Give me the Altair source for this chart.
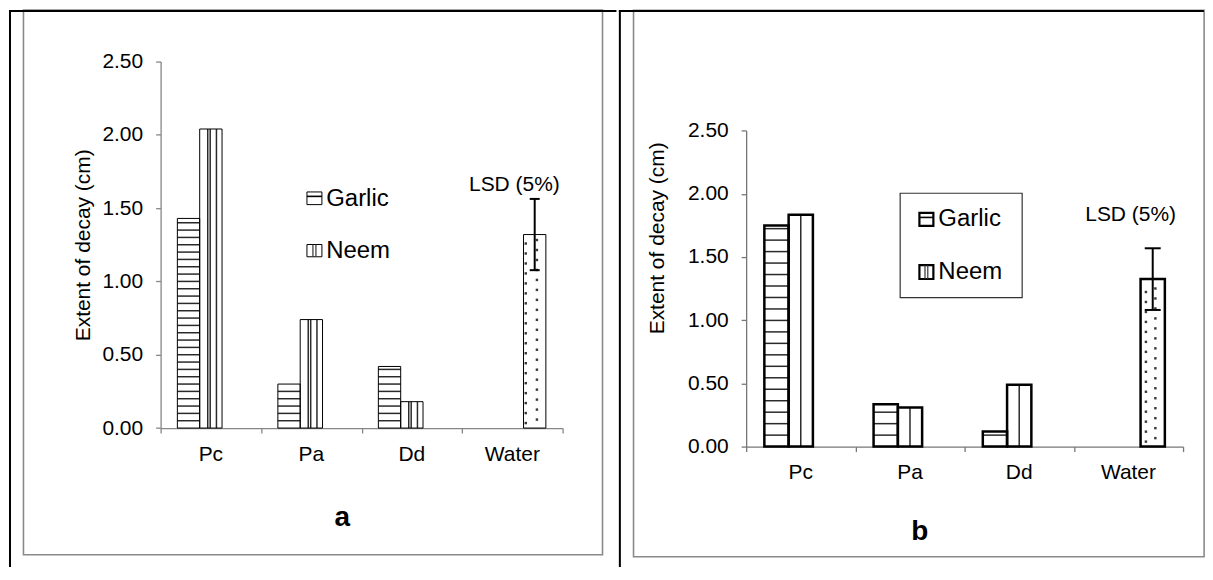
import altair as alt
import pandas as pd

# ---------------- data ----------------
categories = ["Pc", "Pa", "Dd", "Water"]
series = ["Garlic", "Neem", "Water"]
legend_labels = ["Garlic", "Neem"]

garlic_a = [1.43, 0.30, 0.42, 0.0]
neem_a = [2.04, 0.74, 0.18, 0.0]
water_a = [0.0, 0.0, 0.0, 1.32]
lsd_half_a = 0.243

garlic_b = [1.75, 0.335, 0.12, 0.0]
neem_b = [1.835, 0.31, 0.49, 0.0]
water_b = [0.0, 0.0, 0.0, 1.325]
lsd_half_b = 0.244

y_ticks = [0.0, 0.5, 1.0, 1.5, 2.0, 2.5]
y_title = "Extent of decay  (cm)"
lsd_label = "LSD (5%)"
panel_labels = ["a", "b"]

FONT = "Liberation Sans"
GRAY = "#868686"
BW = 2 / 9      # bar width (category units), Excel gap width 150%
GAP = 1 / 6     # outer gap on each side of a group

# both panels share the same view origin row (y = 59.3); panel b's value axis
# occupies only the lower part of its view through the scale range
CFG_A = dict(W=403, H=367.4, Hs=367.4, ox=160, oy=59.3, bar_sw=1, hstep_px=7.35, vfr=[0.36, 0.47, 0.75],
             dot_cols=[0.1, 0.6], dstep_px=10, cap_px=5, lsd_y=189, cat_y=459.3,
             lab_x=342, lab_y=525, tx=92.5, ty=243,
             leg_box=None, leg_sw=[(306.7, 190, 321.7, 202.7), (306.7, 242.7, 321.7, 255)],
             leg_tx=326, leg_ty=[196.7, 249], axis_col=GRAY, leg_stroke=1,
             gray=(22.5, 7.7, 603, 553.7), vline=9, tline=(8, 617))
CFG_B = dict(W=438, H=386.0, Hs=316.8, ox=744.6, oy=59.3, bar_sw=2.5, hstep_px=11.5, vfr=[0.5],
             dot_cols=[0.22, 0.61], dstep_px=10, cap_px=8, lsd_y=219, cat_y=477.8,
             lab_x=918.6, lab_y=539, tx=666, ty=236,
             leg_box=(899, 191.3, 1021.3, 296), leg_sw=[(918.3, 211, 932.3, 224), (918.3, 263.3, 932.3, 277.3)],
             leg_tx=937.3, leg_ty=[216.7, 270], axis_col="#777777", leg_stroke=2.2,
             gray=(631.7, 8, 1203.7, 555.7), vline=618, tline=(617, 1203.5))


def one():
    return alt.Data(values=[{}])


def panel(vals, lsd_half, cfg, label):
    W, H, Hs, ox, oy = cfg["W"], cfg["H"], cfg["Hs"], cfg["ox"], cfg["oy"]
    ux = 4 / W       # data units per pixel (x)
    uy = 2.5 / Hs    # data units per pixel (y)
    rx = lambda a: a - ox
    ry = lambda a: a - oy
    xs = alt.Scale(domain=[0, 4], nice=False, zero=False)
    ys = alt.Scale(domain=[0, 2.5], nice=False, zero=True, range=[H, H - Hs])

    rows = []
    for j, s in enumerate(series):
        for i, c in enumerate(categories):
            v = vals[j][i]
            if v > 0:
                x0 = i + GAP + j * BW
                rows.append({"cat": c, "series": s, "x0": x0, "x1": x0 + BW, "v": v})
    bars = pd.DataFrame(rows)

    xaxis = alt.Axis(values=[0, 1, 2, 3, 4], labels=False, ticks=True, tickSize=5,
                     tickColor=cfg["axis_col"], domainColor=cfg["axis_col"], domainWidth=1.3,
                     tickWidth=1.3, title=None, grid=False)
    yaxis = alt.Axis(values=y_ticks, format=".2f", labelFont=FONT, labelFontSize=21,
                     labelColor="black", tickSize=5, tickColor=cfg["axis_col"], tickWidth=1.3,
                     labelPadding=13, domainColor=cfg["axis_col"], domainWidth=1.3, grid=False,
                     title=y_title, titleFont=FONT, titleFontSize=21, titleFontWeight="normal",
                     titleColor="black", titleAngle=270, titleAlign="center", titleBaseline="bottom",
                     titleX=rx(cfg["tx"]), titleY=ry(cfg["ty"]))

    enc = dict(x=alt.X("x0:Q", scale=xs, axis=xaxis), x2="x1:Q",
               y=alt.Y("v:Q", scale=ys, axis=yaxis), y2=alt.datum(0))
    fill = alt.Chart(bars).mark_rect(fill="white").encode(**enc)
    outline = alt.Chart(bars).mark_rect(fillOpacity=0, stroke="black",
                                        strokeWidth=cfg["bar_sw"]).encode(**enc)

    # horizontal stripes (Garlic)
    hstep = cfg["hstep_px"] * uy
    hrows = []
    for r in rows:
        if r["series"] == "Garlic":
            k = 1
            while k * hstep < r["v"] - 0.25 * hstep:
                hrows.append({"x0": r["x0"], "x1": r["x1"], "y": k * hstep})
                k += 1
    hstr = alt.Chart(pd.DataFrame(hrows)).mark_rule(color="#2a2a2a", strokeWidth=1.5).encode(
        x=alt.X("x0:Q", scale=xs), x2="x1:Q", y=alt.Y("y:Q", scale=ys))

    # vertical stripes (Neem)
    vrows = []
    for r in rows:
        if r["series"] == "Neem":
            for f in cfg["vfr"]:
                vrows.append({"x": r["x0"] + f * BW, "y0": 0, "y1": r["v"]})
    vstr = alt.Chart(pd.DataFrame(vrows)).mark_rule(color="#2a2a2a", strokeWidth=1.5).encode(
        x=alt.X("x:Q", scale=xs), y=alt.Y("y0:Q", scale=ys), y2="y1:Q")

    # dotted fill (Water)
    dstep = cfg["dstep_px"] * uy
    drows = []
    for r in rows:
        if r["series"] == "Water":
            for ci, f in enumerate(cfg["dot_cols"]):
                k = 0
                while True:
                    yy = (k + 0.5 + 0.35 * ci) * dstep
                    if yy > r["v"] - 0.4 * dstep:
                        break
                    drows.append({"x": r["x0"] + f * BW, "y": yy})
                    k += 1
    dots = alt.Chart(pd.DataFrame(drows)).mark_square(size=6, color="#3a3a3a", opacity=1).encode(
        x=alt.X("x:Q", scale=xs), y=alt.Y("y:Q", scale=ys))

    # LSD error bar on the control bar
    wrow = [r for r in rows if r["series"] == "Water"][0]
    xc = (wrow["x0"] + wrow["x1"]) / 2
    cap = cfg["cap_px"] * ux
    err = pd.DataFrame([{"x": xc, "xa": xc - cap, "xb": xc + cap,
                         "lo": wrow["v"] - lsd_half, "hi": wrow["v"] + lsd_half}])
    err_v = alt.Chart(err).mark_rule(color="black", strokeWidth=2).encode(
        x=alt.X("x:Q", scale=xs), y=alt.Y("lo:Q", scale=ys), y2="hi:Q")
    err_lo = alt.Chart(err).mark_rule(color="black", strokeWidth=2).encode(
        x=alt.X("xa:Q", scale=xs), x2="xb:Q", y=alt.Y("lo:Q", scale=ys))
    err_hi = alt.Chart(err).mark_rule(color="black", strokeWidth=2).encode(
        x=alt.X("xa:Q", scale=xs), x2="xb:Q", y=alt.Y("hi:Q", scale=ys))
    lsd_txt = alt.Chart(pd.DataFrame([{"x": 3.52, "t": lsd_label}])).mark_text(
        font=FONT, fontSize=21, color="black", align="center", baseline="alphabetic").encode(
        x=alt.X("x:Q", scale=xs), y=alt.value(ry(cfg["lsd_y"])), text="t:N")

    # category labels
    cats = pd.DataFrame([{"cat": c, "xc": i + 0.5} for i, c in enumerate(categories)])
    cat_txt = alt.Chart(cats).mark_text(font=FONT, fontSize=21, color="black", align="center",
                                        baseline="alphabetic").encode(
        x=alt.X("xc:Q", scale=xs), y=alt.value(ry(cfg["cat_y"])), text="cat:N")

    # panel letter
    lab = alt.Chart(pd.DataFrame([{"t": label}])).mark_text(
        font=FONT, fontSize=28, fontWeight="bold", color="black", align="center",
        baseline="alphabetic").encode(x=alt.value(rx(cfg["lab_x"])), y=alt.value(ry(cfg["lab_y"])),
                                      text="t:N")

    deco = []
    # gray chart-area border
    gx0, gy0, gx1, gy1 = cfg["gray"]
    deco.append(alt.Chart(one()).mark_rect(fillOpacity=0, stroke="#8a8a8a", strokeWidth=1.6).encode(
        x=alt.value(rx(gx0)), x2=alt.value(rx(gx1)), y=alt.value(ry(gy0)), y2=alt.value(ry(gy1))))
    # black table lines
    deco.append(alt.Chart(one()).mark_rule(color="black", strokeWidth=2).encode(
        x=alt.value(rx(cfg["vline"])), y=alt.value(ry(7.5)), y2=alt.value(ry(566))))
    deco.append(alt.Chart(one()).mark_rule(color="black", strokeWidth=2).encode(
        x=alt.value(rx(cfg["tline"][0])), x2=alt.value(rx(cfg["tline"][1])), y=alt.value(ry(8.5))))

    # legend
    leg = []
    if cfg["leg_box"] is not None:
        bx0, by0, bx1, by1 = cfg["leg_box"]
        leg.append(alt.Chart(one()).mark_rect(fill="white", stroke="#333333", strokeWidth=1.2).encode(
            x=alt.value(rx(bx0)), x2=alt.value(rx(bx1)), y=alt.value(ry(by0)), y2=alt.value(ry(by1))))
    for n, name in enumerate(legend_labels):
        sx0, sy0, sx1, sy1 = cfg["leg_sw"][n]
        leg.append(alt.Chart(one()).mark_rect(fill="white", stroke="black",
                                              strokeWidth=cfg["leg_stroke"]).encode(
            x=alt.value(rx(sx0)), x2=alt.value(rx(sx1)), y=alt.value(ry(sy0)), y2=alt.value(ry(sy1))))
        if name == "Garlic":
            for f in [0.35]:
                leg.append(alt.Chart(one()).mark_rule(color="black", strokeWidth=1.6).encode(
                    x=alt.value(rx(sx0)), x2=alt.value(rx(sx1)),
                    y=alt.value(ry(sy0 + f * (sy1 - sy0)))))
        else:
            for f in [0.4, 0.6]:
                leg.append(alt.Chart(one()).mark_rule(color="#333333", strokeWidth=1.2).encode(
                    x=alt.value(rx(sx0 + f * (sx1 - sx0))), y=alt.value(ry(sy0)), y2=alt.value(ry(sy1))))
        leg.append(alt.Chart(pd.DataFrame([{"t": name}])).mark_text(
            font=FONT, fontSize=24, color="black", align="left", baseline="middle").encode(
            x=alt.value(rx(cfg["leg_tx"])), y=alt.value(ry(cfg["leg_ty"][n])), text="t:N"))

    layers = [fill, hstr, vstr, dots, outline, err_v, err_lo, err_hi, lsd_txt, cat_txt, lab] + deco + leg
    return alt.layer(*layers).properties(width=W, height=H)


pa = panel([garlic_a, neem_a, water_a], lsd_half_a, CFG_A, panel_labels[0])
pb = panel([garlic_b, neem_b, water_b], lsd_half_b, CFG_B, panel_labels[1])

chart = alt.hconcat(pa, pb, spacing=0).properties(padding=0).configure_view(stroke=None)
chart.save("out.html", embed_options={"renderer": "svg", "actions": False})
